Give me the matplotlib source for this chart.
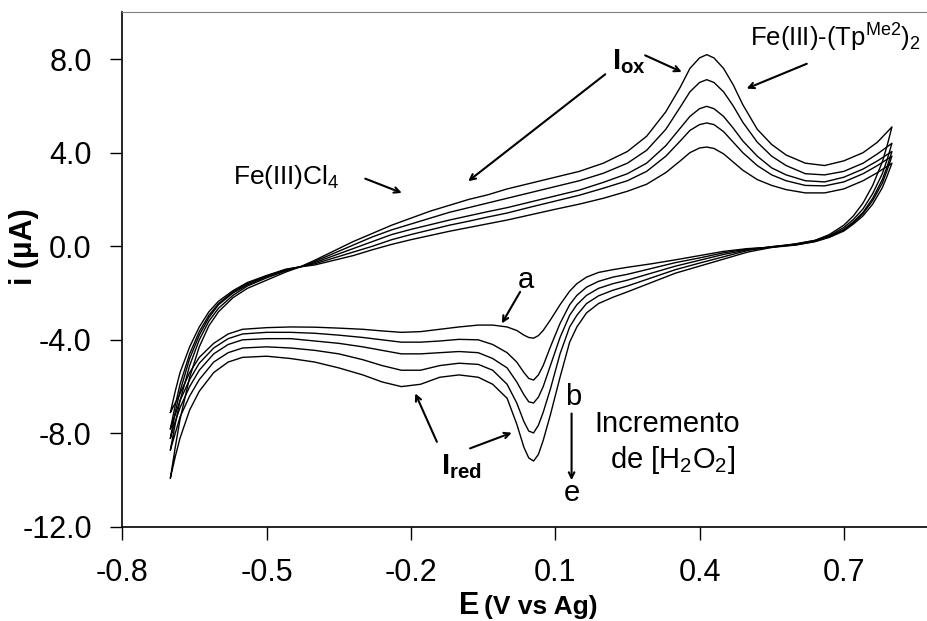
import matplotlib
matplotlib.use("Agg")
from matplotlib import pyplot as plt

# potential grids (V vs Ag) for the anodic (forward) and cathodic (reverse) sweeps
E_FWD = [-0.70, -0.69, -0.68, -0.66, -0.64, -0.62, -0.60, -0.57, -0.54, -0.50,
         -0.46, -0.43, -0.40, -0.36, -0.32, -0.28, -0.24, -0.20, -0.16, -0.12,
         -0.08, -0.04, 0.00, 0.05, 0.10, 0.15, 0.20, 0.25, 0.29, 0.33,
         0.36, 0.38, 0.40, 0.415, 0.43, 0.45, 0.47, 0.49, 0.52, 0.55,
         0.58, 0.62, 0.66, 0.70, 0.74, 0.77, 0.80]

E_REV = [0.80, 0.79, 0.78, 0.76, 0.74, 0.72, 0.70, 0.67, 0.64, 0.60,
         0.55, 0.50, 0.45, 0.40, 0.35, 0.30, 0.25, 0.22, 0.19, 0.165,
         0.145, 0.13, 0.11, 0.09, 0.075, 0.065, 0.055, 0.045, 0.035, 0.02,
         0.00, -0.03, -0.06, -0.10, -0.14, -0.18, -0.22, -0.26, -0.30, -0.35,
         -0.40, -0.45, -0.50, -0.55, -0.58, -0.61, -0.64, -0.66, -0.68, -0.69,
         -0.70]

# current (uA), curves a -> e with increasing [H2O2]
i_fwd_a = [-7.1, -6.2, -5.4, -4.3, -3.45, -2.8, -2.35, -1.9, -1.55, -1.25,
           -0.98, -0.88, -0.8, -0.6, -0.4, -0.15, 0.08, 0.28, 0.46, 0.64,
           0.8, 0.96, 1.12, 1.35, 1.58, 1.8, 2.05, 2.35, 2.65, 3.15,
           3.65, 4.0, 4.2, 4.24, 4.18, 3.95, 3.6, 3.25, 2.85, 2.6,
           2.42, 2.28, 2.28, 2.45, 2.8, 3.15, 3.55]
i_fwd_b = [-7.8, -6.8, -5.9, -4.6, -3.65, -2.95, -2.45, -1.95, -1.6, -1.27,
           -1.0, -0.88, -0.75, -0.5, -0.25, 0.0, 0.28, 0.5, 0.7, 0.9,
           1.07, 1.25, 1.42, 1.68, 1.93, 2.18, 2.48, 2.8, 3.2, 3.85,
           4.5, 4.95, 5.2, 5.27, 5.2, 4.9, 4.45, 4.0, 3.45, 3.05,
           2.8, 2.6, 2.58, 2.75, 3.1, 3.45, 3.85]
i_fwd_c = [-8.2, -7.1, -6.2, -4.8, -3.8, -3.05, -2.5, -2.0, -1.65, -1.3,
           -1.02, -0.88, -0.7, -0.4, -0.1, 0.2, 0.5, 0.72, 0.92, 1.12,
           1.3, 1.48, 1.65, 1.9, 2.15, 2.4, 2.73, 3.1, 3.55, 4.3,
           5.05, 5.55, 5.88, 5.98, 5.88, 5.55, 5.05, 4.5, 3.85, 3.35,
           3.05, 2.8, 2.75, 2.95, 3.3, 3.65, 4.05]
i_fwd_d = [-8.7, -7.6, -6.6, -5.1, -4.0, -3.2, -2.65, -2.1, -1.7, -1.35,
           -1.05, -0.88, -0.65, -0.3, 0.05, 0.4, 0.7, 0.95, 1.2, 1.45,
           1.65, 1.85, 2.05, 2.3, 2.55, 2.8, 3.12, 3.55, 4.1, 5.0,
           5.95, 6.6, 7.0, 7.12, 7.0, 6.6, 6.0, 5.3, 4.45, 3.85,
           3.45, 3.1, 3.05, 3.2, 3.55, 3.95, 4.4]
i_fwd_e = [-9.9, -8.6, -7.4, -5.6, -4.3, -3.4, -2.8, -2.2, -1.8, -1.45,
           -1.1, -0.88, -0.6, -0.2, 0.2, 0.55, 0.9, 1.2, 1.5, 1.75,
           2.0, 2.2, 2.45, 2.7, 2.95, 3.2, 3.55, 4.05, 4.7, 5.75,
           6.8, 7.6, 8.05, 8.19, 8.05, 7.6, 6.9, 6.05, 5.0, 4.35,
           3.9, 3.55, 3.45, 3.65, 4.0, 4.45, 5.1]

i_rev_a = [3.55, 3.0, 2.5, 1.8, 1.3, 0.95, 0.65, 0.38, 0.2, 0.05,
           -0.05, -0.1, -0.22, -0.4, -0.58, -0.75, -0.9, -1.0, -1.12, -1.32,
           -1.6, -1.92, -2.5, -3.15, -3.6, -3.82, -3.93, -3.9, -3.8, -3.6,
           -3.45, -3.37, -3.37, -3.45, -3.55, -3.65, -3.68, -3.62, -3.55, -3.5,
           -3.46, -3.45, -3.48, -3.55, -3.75, -4.15, -4.75, -5.4, -6.3, -6.7,
           -7.1]
i_rev_b = [3.85, 3.25, 2.7, 1.95, 1.4, 1.0, 0.7, 0.4, 0.2, 0.06,
           -0.03, -0.12, -0.28, -0.5, -0.7, -0.95, -1.2, -1.32, -1.5, -1.75,
           -2.1, -2.5, -3.3, -4.3, -5.1, -5.5, -5.72, -5.65, -5.4, -4.95,
           -4.55, -4.2, -4.0, -3.98, -4.05, -4.1, -4.1, -4.0, -3.9, -3.8,
           -3.72, -3.68, -3.68, -3.75, -3.95, -4.35, -5.0, -5.7, -6.6, -7.2,
           -7.8]
i_rev_c = [4.05, 3.4, 2.85, 2.05, 1.45, 1.05, 0.72, 0.42, 0.22, 0.08,
           -0.02, -0.15, -0.35, -0.6, -0.85, -1.15, -1.45, -1.6, -1.8, -2.1,
           -2.5, -2.95, -3.9, -5.1, -6.0, -6.45, -6.7, -6.65, -6.35, -5.8,
           -5.2, -4.8, -4.55, -4.5, -4.55, -4.6, -4.6, -4.45, -4.3, -4.15,
           -4.05, -3.95, -3.95, -4.0, -4.2, -4.6, -5.3, -6.0, -6.9, -7.5,
           -8.2]
i_rev_d = [4.4, 3.7, 3.1, 2.25, 1.6, 1.15, 0.8, 0.45, 0.25, 0.1,
           -0.02, -0.18, -0.45, -0.72, -1.0, -1.35, -1.7, -1.88, -2.12, -2.45,
           -2.95, -3.45, -4.6, -6.1, -7.1, -7.65, -7.98, -7.9, -7.5, -6.7,
           -5.9, -5.3, -5.05, -5.0, -5.1, -5.3, -5.3, -5.1, -4.85, -4.6,
           -4.45, -4.35, -4.3, -4.35, -4.55, -4.95, -5.7, -6.4, -7.3, -8.0,
           -8.7]
i_rev_e = [5.1, 4.3, 3.6, 2.6, 1.85, 1.3, 0.9, 0.5, 0.25, 0.1,
           -0.05, -0.25, -0.55, -0.85, -1.15, -1.55, -1.95, -2.18, -2.45, -2.85,
           -3.45, -4.1, -5.6, -7.2, -8.3, -8.9, -9.18, -9.05, -8.6, -7.6,
           -6.5, -5.9, -5.6, -5.5, -5.6, -5.9, -6.0, -5.8, -5.5, -5.2,
           -4.95, -4.8, -4.7, -4.75, -4.95, -5.4, -6.2, -7.0, -8.2, -9.0,
           -9.9]

X_TICKS = [-0.8, -0.5, -0.2, 0.1, 0.4, 0.7]
Y_TICKS = [-12.0, -8.0, -4.0, 0.0, 4.0, 8.0]

plt.rcParams["font.family"] = ["Liberation Sans", "DejaVu Sans"]
plt.rcParams["mathtext.fontset"] = "custom"
plt.rcParams["mathtext.rm"] = "Liberation Sans"
plt.rcParams["mathtext.it"] = "Liberation Sans:italic"
plt.rcParams["mathtext.bf"] = "Liberation Sans:bold"

fig = plt.figure(figsize=(9.28, 6.21), dpi=100)
# the plot frame runs past the right border of the figure
ax = fig.add_axes([0.1318, 0.1514, 0.933, 0.8288])

fwd = [i_fwd_a, i_fwd_b, i_fwd_c, i_fwd_d, i_fwd_e]
rev = [i_rev_a, i_rev_b, i_rev_c, i_rev_d, i_rev_e]
for i_f, i_r in zip(fwd, rev):
    ax.plot(E_FWD + E_REV, i_f + i_r, color="black", lw=1.0)

ax.set_xlim(-0.8, 1.0)
ax.set_ylim(-12.0, 10.0)
ax.set_xticks(X_TICKS)
ax.set_xticklabels(["%.1f" % v for v in X_TICKS])
ax.set_yticks(Y_TICKS)
ax.set_yticklabels(["%.1f" % v for v in Y_TICKS])
ax.tick_params(direction="out", length=9, width=1, labelsize=22, pad=13)
ax.spines["right"].set_visible(False)
ax.spines["top"].set_color("#808080")
for s in ("left", "bottom"):
    ax.spines[s].set_linewidth(1.2)

fig.text(24 / 928, 1 - 247 / 621, "i (\u00b5A)", rotation=90, ha="center", va="center",
         fontsize=22, fontweight="bold")
fig.text(459 / 928, 0.012, "E", fontsize=22, fontweight="bold", va="baseline")
fig.text(484 / 928, 0.012, "(V vs Ag)", fontsize=19, fontweight="bold", va="baseline")

arrow = dict(arrowstyle="->", color="black", lw=1.5, shrinkA=0, shrinkB=0)

ax.text(0.505, 8.9, r"Fe(III)-(Tp$^{\mathrm{Me2}}$)$_2$", fontsize=18.5, va="center", ha="left")
ax.annotate("", xy=(0.498, 6.74), xytext=(0.623, 7.80), arrowprops=arrow)

ax.text(0.253, 7.9, r"I$_{\mathbf{ox}}$", fontsize=21, fontweight="bold", va="center", ha="center")
ax.annotate("", xy=(0.363, 7.45), xytext=(0.287, 8.16), arrowprops=arrow)
ax.annotate("", xy=(-0.081, 2.78), xytext=(0.204, 7.35), arrowprops=arrow)

ax.text(-0.570, 2.95, r"Fe(III)Cl$_4$", fontsize=19, va="center", ha="left")
ax.annotate("", xy=(-0.219, 2.28), xytext=(-0.295, 2.89), arrowprops=arrow)

ax.text(0.039, -1.45, "a", fontsize=21, va="center", ha="center")
ax.annotate("", xy=(-0.011, -3.30), xytext=(0.027, -1.95), arrowprops=arrow)

ax.text(-0.096, -9.44, r"I$_{\mathbf{red}}$", fontsize=21, fontweight="bold", va="center", ha="center")
ax.annotate("", xy=(-0.191, -6.29), xytext=(-0.146, -8.36), arrowprops=arrow)
ax.annotate("", xy=(0.0096, -7.97), xytext=(-0.077, -8.64), arrowprops=arrow)

ax.text(0.137, -6.45, "b", fontsize=21, va="center", ha="center")
ax.annotate("", xy=(0.134, -10.0), xytext=(0.134, -7.15), arrowprops=arrow)
ax.text(0.135, -10.55, "e", fontsize=21, va="center", ha="center")
ax.text(0.333, -7.6, "Incremento", fontsize=21, va="center", ha="center")
ax.text(0.343, -9.14, r"de [H$_2$O$_2$]", fontsize=21, va="center", ha="center")

fig.savefig("out.png", dpi=100)
